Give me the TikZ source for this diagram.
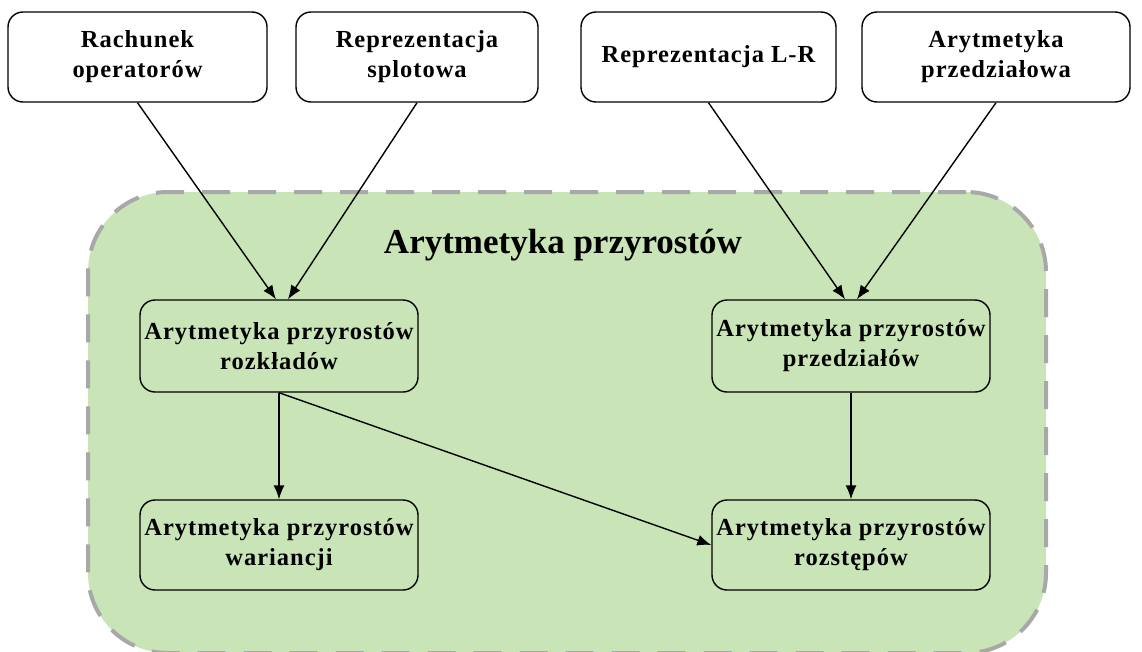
\documentclass[tikz,border=0pt]{standalone}
\usepackage{fontspec}
\setmainfont{Liberation Serif}
\usetikzlibrary{arrows.meta,calc}
\definecolor{areafill}{HTML}{C9E4B7}
\definecolor{arealine}{HTML}{A8A8A8}
\newfontfamily\spacedserif[LetterSpace=4]{Liberation Serif}
\newcommand{\boxfont}{\spacedserif\fontsize{24.5}{30}\selectfont\bfseries}
\newcommand{\titlefont}{\fontsize{35}{40}\selectfont\bfseries}
\begin{document}
\begin{tikzpicture}[x=1pt,y=-1pt,
  area/.style={draw=arealine, line width=4pt, dash pattern=on 28pt off 18pt,
    fill=areafill, rounded corners=80pt, minimum width=958pt, minimum height=461pt, inner sep=0pt},
  box/.style={draw=black, line width=1.4pt, rounded corners=15pt, align=center,
    font=\boxfont, inner sep=0pt},
  topbox/.style={box, fill=white, minimum height=90pt},
  innerbox/.style={box, minimum width=278pt},
  arr/.style={-{Latex[length=14pt,width=11pt]}, line width=1.4pt}]
\useasboundingbox (0,0) rectangle (1142,651);

% shaded region holding the increment arithmetics
\node[area] (region) at (567,422.5) {};
\node[font=\titlefont] (title) at (563,245) {Arytmetyka przyrostów};

% source formalisms
\node[topbox, minimum width=259pt] (ops)   at (137.5,57) {Rachunek\\operatorów};
\node[topbox, minimum width=242pt] (splot) at (417,57)   {Reprezentacja\\splotowa};
\node[topbox, minimum width=255pt] (lr)    at (708.5,57) {Reprezentacja L-R};
\node[topbox, minimum width=268pt] (przed) at (996,57)   {Arytmetyka\\przedziałowa};

% derived arithmetics
\node[innerbox, minimum height=92pt] (rozk) at (279,346) {Arytmetyka przyrostów\\rozkładów};
\node[innerbox, minimum height=92pt] (prz)  at (851,346) {Arytmetyka przyrostów\\przedziałów};
\node[innerbox, minimum height=90pt] (war)  at (279,545) {Arytmetyka przyrostów\\wariancji};
\node[innerbox, minimum height=90pt] (roz)  at (851,545) {Arytmetyka przyrostów\\rozstępów};

% dependencies
\draw[arr] (ops.south)   -- ($(rozk.north)+(-3pt,0)$);
\draw[arr] (splot.south) -- ($(rozk.north)+(9pt,0)$);
\draw[arr] (lr.south)    -- ($(prz.north)+(-6pt,0)$);
\draw[arr] (przed.south) -- ($(prz.north)+(6pt,0)$);
\draw[arr] (rozk.south)  -- (war.north);
\draw[arr] (rozk.south)  -- (roz.west);
\draw[arr] (prz.south)   -- (roz.north);
\end{tikzpicture}
\end{document}
